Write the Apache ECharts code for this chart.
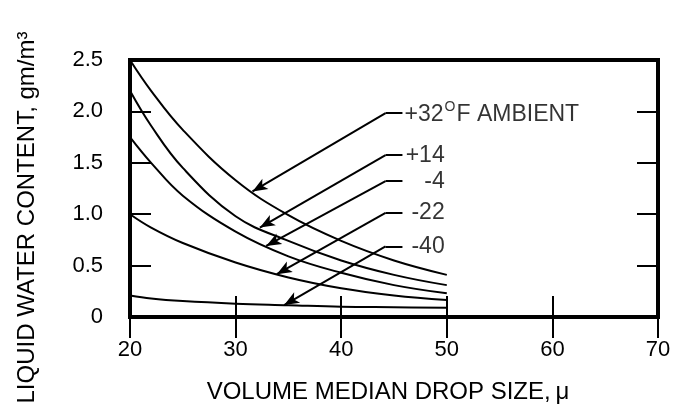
<!DOCTYPE html>
<html>
<head>
<meta charset="utf-8">
<script src="https://cdn.jsdelivr.net/npm/echarts@6/dist/echarts.min.js"></script>
<style>
html,body{margin:0;padding:0;background:#fff;}
#chart{width:677px;height:409px;}
</style>
</head>
<body>
<div id="chart"></div>
<script>
// ---- data ----
const dropSize = [20, 22, 25, 30, 35, 40, 45, 50];
const lwcPlus32 = [2.50, 2.20, 1.82, 1.33, 0.99, 0.74, 0.55, 0.41];
const lwcPlus14 = [2.20, 1.86, 1.45, 0.98, 0.74, 0.55, 0.41, 0.31];
const lwcMinus4 = [1.75, 1.50, 1.18, 0.83, 0.59, 0.43, 0.31, 0.23];
const lwcMinus22 = [1.00, 0.87, 0.72, 0.53, 0.385, 0.28, 0.21, 0.165];
const lwcMinus40 = [0.21, 0.18, 0.155, 0.13, 0.115, 0.10, 0.095, 0.09];

const seriesNames = ['+32', '+14', '-4', '-22', '-40'];
const labelTexts = ['{n|+32}{o|O}{n|F AMBIENT}', '+14', '-4', '-22', '-40'];
// annotation geometry in data units
const labelY = [1.983, 1.574, 1.321, 1.014, 0.687];
const arrowTipX = [31.6, 32.3, 32.9, 33.9, 34.6];
const elbowX = 44.2;
const leaderEndX = 45.8;
const labelAnchorX = [46.0, 49.8, 49.8, 49.8, 49.8];
const labelAlign = ['left', 'right', 'right', 'right', 'right'];

const xMin = 20, xMax = 70, xStep = 10;
const yMin = 0, yMax = 2.5, yStep = 0.5;

const allCurves = [lwcPlus32, lwcPlus14, lwcMinus4, lwcMinus22, lwcMinus40];

function curveAt(vals, x) {
  for (let i = 0; i < dropSize.length - 1; i++) {
    if (x >= dropSize[i] && x <= dropSize[i + 1]) {
      const t = (x - dropSize[i]) / (dropSize[i + 1] - dropSize[i]);
      return vals[i] + t * (vals[i + 1] - vals[i]);
    }
  }
  return vals[vals.length - 1];
}

const FONT = 'Liberation Sans, Arial, Helvetica, sans-serif';

const curveSeries = allCurves.map((vals, i) => ({
  name: seriesNames[i],
  type: 'line',
  data: dropSize.map((x, j) => [x, vals[j]]),
  smooth: 0.4,
  showSymbol: false,
  symbol: 'none',
  lineStyle: { color: '#000', width: 2 },
  z: 3,
  silent: true
}));

const markLines = [];
allCurves.forEach((vals, i) => {
  const tx = arrowTipX[i];
  const ty = curveAt(vals, tx);
  markLines.push([
    { coord: [elbowX, labelY[i]], symbol: 'none' },
    { coord: [tx, ty], symbol: 'arrow', symbolSize: [9, 15] }
  ]);
  markLines.push([
    { coord: [elbowX, labelY[i]], symbol: 'none' },
    { coord: [leaderEndX, labelY[i]], symbol: 'none' }
  ]);
});

const labelSeries = {
  type: 'scatter',
  symbolSize: 0,
  silent: true,
  data: labelTexts.map((t, i) => ({
    value: [labelAnchorX[i], labelY[i]],
    label: {
      show: true,
      position: 'inside',
      align: labelAlign[i],
      verticalAlign: 'middle',
      formatter: t,
      color: '#000',
      fontFamily: FONT,
      fontSize: 23,
      rich: {
        n: { fontSize: 23, fontFamily: FONT, color: '#000', verticalAlign: 'bottom', padding: [3, 0, 0, 0] },
        o: { fontSize: 14, fontFamily: FONT, color: '#000', verticalAlign: 'top', padding: [0, 1, 0, 1] }
      }
    }
  })),
  markLine: {
    silent: true,
    animation: false,
    label: { show: false },
    lineStyle: { color: '#000', width: 2, type: 'solid' },
    symbol: ['none', 'none'],
    data: markLines
  },
  z: 5
};

const chart = echarts.init(document.getElementById('chart'), null, { renderer: 'canvas' });
chart.setOption({
  animation: false,
  backgroundColor: '#fff',
  textStyle: { fontFamily: FONT, color: '#000' },
  grid: {
    left: 130, right: 19, top: 60, bottom: 92,
    show: true, borderColor: '#000', borderWidth: 4,
    containLabel: false, outerBoundsMode: 'none'
  },
  xAxis: [
    {
      type: 'value', min: xMin, max: xMax, interval: xStep, position: 'bottom',
      axisLine: { show: false },
      axisTick: { show: true, inside: true, length: 21, lineStyle: { color: '#000', width: 2 } },
      splitLine: { show: false },
      axisLabel: { color: '#000', fontSize: 22, fontFamily: FONT, margin: 22 },
      name: 'VOLUME MEDIAN DROP SIZE,\u2009\u03bc',
      nameLocation: 'middle', nameGap: 63,
      nameTextStyle: { color: '#000', fontSize: 24, fontFamily: FONT, padding: [0, 12, 0, 0] }
    },
    {
      type: 'value', min: xMin, max: xMax, interval: xStep, position: 'top',
      axisLine: { show: false },
      axisTick: { show: true, inside: true, length: 21, lineStyle: { color: '#000', width: 2 } },
      splitLine: { show: false },
      axisLabel: { show: false }
    }
  ],
  yAxis: [
    {
      type: 'value', min: yMin, max: yMax, interval: yStep, position: 'left',
      axisLine: { show: false },
      axisTick: { show: true, inside: true, length: 21, lineStyle: { color: '#000', width: 2 } },
      splitLine: { show: false },
      axisLabel: {
        color: '#000', fontSize: 22, fontFamily: FONT, margin: 27,
        formatter: v => (v === 0 ? '0' : v.toFixed(1))
      },
      name: 'LIQUID WATER CONTENT, gm/m\u00b3',
      nameLocation: 'middle', nameGap: 91, nameRotate: 90,
      nameTextStyle: { color: '#000', fontSize: 24, fontFamily: FONT, padding: [0, 58, 0, 0] }
    },
    {
      type: 'value', min: yMin, max: yMax, interval: yStep, position: 'right',
      axisLine: { show: false },
      axisTick: { show: true, inside: true, length: 21, lineStyle: { color: '#000', width: 2 } },
      splitLine: { show: false },
      axisLabel: { show: false }
    }
  ],
  series: curveSeries.concat([labelSeries])
});
</script>
</body>
</html>
